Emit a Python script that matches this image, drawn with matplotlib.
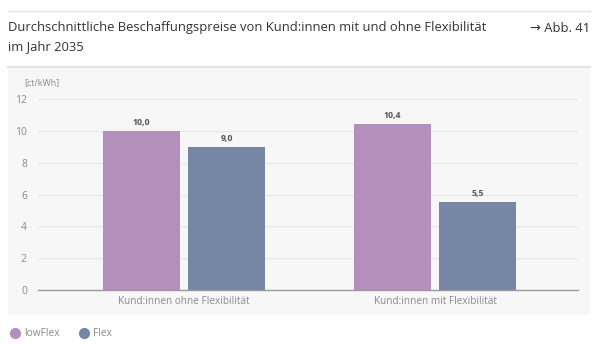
import matplotlib.pyplot as plt
from matplotlib.patches import Rectangle
from matplotlib.lines import Line2D

categories = ["Kund:innen ohne Flexibilität", "Kund:innen mit Flexibilität"]
low_flex = [10.0, 10.4]
flex = [9.0, 5.5]
series_names = ["lowFlex", "Flex"]
labels_low = ["10,0", "10,4"]
labels_flex = ["9,0", "5,5"]
y_ticks = [0, 2, 4, 6, 8, 10, 12]

C_LOW = "#b48fbc"
C_FLEX = "#7686a5"
TXT = "#333333"
GRAY = "#8a8a8a"

plt.rcParams['font.family'] = ['Open Sans', 'DejaVu Sans']

W, H = 600, 344
fig = plt.figure(figsize=(W / 100, H / 100), dpi=100)


def fx(px):
    return px / W


def fy(py):
    return 1 - py / H


# header lines and panel
fig.add_artist(Line2D([fx(8), fx(590)], [fy(11), fy(11)], color="#e3e3e3", lw=1))
fig.add_artist(Line2D([fx(8), fx(590)], [fy(67), fy(67)], color="#e3e3e3", lw=1.5))
fig.add_artist(Rectangle((fx(8), fy(315)), fx(590) - fx(8), fy(68) - fy(315),
                         facecolor="#f7f7f7", edgecolor="none", zorder=0))

fig.text(fx(8), fy(28), "Durchschnittliche Beschaffungspreise von Kund:innen mit und ohne Flexibilität",
         fontsize=9.35, color=TXT, va="center", ha="left")
fig.text(fx(8), fy(47), "im Jahr 2035", fontsize=9.35, color=TXT, va="center", ha="left")
fig.text(fx(590), fy(28), "→ Abb. 41", fontsize=9.35, color=TXT, va="center", ha="right")

ax = fig.add_axes([fx(38), fy(290), fx(578) - fx(38), fy(99) - fy(290)])
ax.set_facecolor("none")

x = list(range(len(categories)))
bw = 0.307
off = 0.171
b1 = ax.bar([i - off for i in x], low_flex, bw, color=C_LOW, zorder=2)
b2 = ax.bar([i + off for i in x], flex, bw, color=C_FLEX, zorder=2)
for bars, labs in ((b1, labels_low), (b2, labels_flex)):
    for b, lab in zip(bars, labs):
        ax.text(b.get_x() + b.get_width() / 2, b.get_height() + 0.25, lab,
                ha="center", va="bottom", fontsize=6.3, color="#555555", fontweight="bold")

ax.set_xlim(-0.582, 1.570)
ax.set_ylim(0, 12)
ax.set_yticks(y_ticks)
ax.set_yticklabels([str(t) for t in y_ticks])
ax.set_xticks(x)
ax.set_xticklabels(categories)
ax.tick_params(axis="y", length=0, pad=8, labelsize=7.5, labelcolor=GRAY)
ax.tick_params(axis="x", length=0, pad=4, labelsize=7.2, labelcolor=GRAY)
ax.grid(axis="y", color="#e6e6e6", lw=0.8, zorder=0)
for s in ("top", "right", "left"):
    ax.spines[s].set_visible(False)
ax.spines["bottom"].set_color("#9a9a9a")
ax.spines["bottom"].set_linewidth(1)

fig.text(fx(24), fy(83), "[ct/kWh]", fontsize=6.5, color=GRAY, va="center", ha="left")

# legend
for px, col, name in ((15, C_LOW, series_names[0]), (84, C_FLEX, series_names[1])):
    fig.add_artist(Line2D([fx(px)], [fy(333)], marker="o", markersize=7, color=col, lw=0))
    fig.text(fx(px + 9), fy(333), name, fontsize=7.3, color=GRAY, va="center", ha="left")

fig.savefig("out.png", dpi=100, facecolor="white")
